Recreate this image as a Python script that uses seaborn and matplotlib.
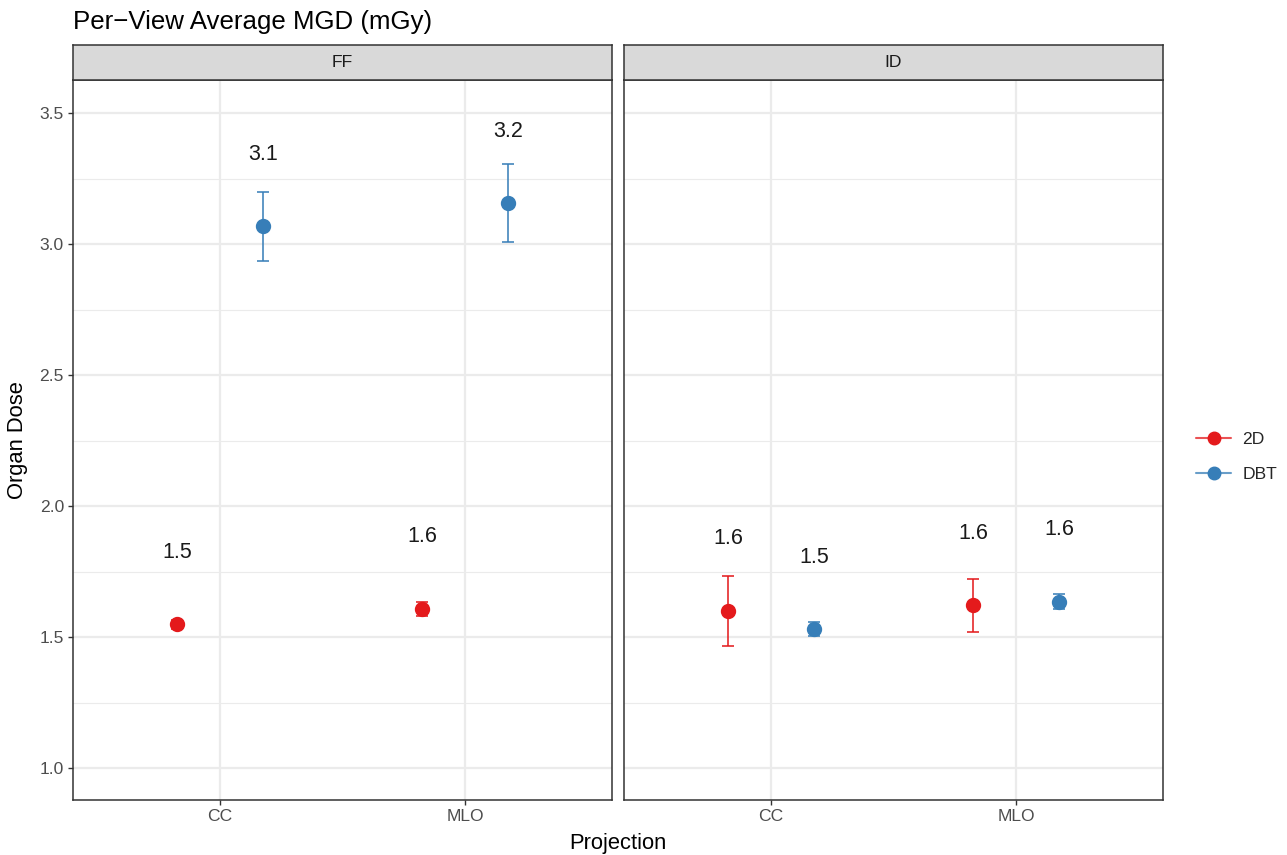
import numpy as np
import pandas as pd
import matplotlib
matplotlib.use("Agg")
import matplotlib.pyplot as plt
import seaborn as sns
from matplotlib.lines import Line2D
from matplotlib.colors import to_rgba

# ---------------- data ----------------
detectors = ["FF", "ID"]
projections = ["CC", "MLO"]
modalities = ["2D", "DBT"]

det_col = ["FF", "FF", "FF", "FF", "ID", "ID", "ID", "ID"]
proj_col = ["CC", "CC", "MLO", "MLO", "CC", "CC", "MLO", "MLO"]
mod_col = ["2D", "DBT", "2D", "DBT", "2D", "DBT", "2D", "DBT"]
mean_dose = [1.548, 3.068, 1.607, 3.156, 1.600, 1.530, 1.621, 1.634]
lower_ci = [1.532, 2.935, 1.582, 3.008, 1.464, 1.503, 1.519, 1.606]
upper_ci = [1.566, 3.198, 1.632, 3.305, 1.734, 1.558, 1.721, 1.663]

palette = {"2D": "#E41A1C", "DBT": "#377EB8"}

df = pd.DataFrame({"Detector": det_col, "Projection": proj_col,
                   "Modality": mod_col, "Dose": mean_dose,
                   "lo": lower_ci, "hi": upper_ci})

# ---------------- style ----------------
sns.set_theme(style="white")
plt.rcParams["font.family"] = ["Liberation Sans", "DejaVu Sans"]

TICK_FS = 12.6
W, H = 1287, 855
fig = plt.figure(figsize=(W / 100, H / 100), dpi=100)

panel_left = [73, 624]
panel_w = 539
panel_top, panel_bot = 80, 800
strip_h = 35
dodge = 0.35
label_offset = 0.275

axes = []
for i, det in enumerate(detectors):
    l = panel_left[i]
    ax = fig.add_axes([l / W, (H - panel_bot) / H, panel_w / W,
                       (panel_bot - panel_top) / H])
    axes.append(ax)
    sub = df[df["Detector"] == det]

    # error bars (drawn beneath the points)
    for _, r in sub.iterrows():
        x = projections.index(r["Projection"]) + \
            (modalities.index(r["Modality"]) - 0.5) * dodge
        ax.errorbar([x], [r["Dose"]],
                    yerr=[[r["Dose"] - r["lo"]], [r["hi"] - r["Dose"]]],
                    fmt="none", ecolor=to_rgba(palette[r["Modality"]], 0.8),
                    elinewidth=1.4, capsize=4.2, capthick=1.4, zorder=2)
        ax.text(x, r["Dose"] + label_offset, f"{r['Dose']:.1f}",
                ha="center", va="center", fontsize=15.5, color="#1A1A1A",
                zorder=4)

    sns.pointplot(data=sub, x="Projection", y="Dose", hue="Modality",
                  order=projections, hue_order=modalities, palette=palette,
                  dodge=dodge, linestyle="none", markers="o", markersize=9,
                  errorbar=None, legend=False, ax=ax)
    for ln in ax.lines:
        ln.set_zorder(3)

    ax.set_xlim(-0.6, 1.6)
    ax.set_ylim(0.878, 3.626)
    ax.set_yticks([1.0, 1.5, 2.0, 2.5, 3.0, 3.5])
    ax.set_yticks([1.25, 1.75, 2.25, 2.75, 3.25], minor=True)
    ax.set_axisbelow(True)
    ax.grid(which="major", axis="both", color="#EBEBEB", linewidth=1.6)
    ax.grid(which="minor", axis="y", color="#EBEBEB", linewidth=0.8)
    ax.set_xlabel("")
    ax.set_ylabel("")
    for s in ax.spines.values():
        s.set_color("#333333")
        s.set_linewidth(1.1)
    ax.tick_params(axis="x", which="major", length=3.5, width=1.0,
                   color="#333333", labelsize=TICK_FS, labelcolor="#4D4D4D",
                   pad=3, bottom=True)
    if i == 0:
        ax.tick_params(axis="y", which="major", length=3.5, width=1.0,
                       color="#333333", labelsize=TICK_FS, labelcolor="#4D4D4D",
                       pad=3, left=True)
        ax.set_yticklabels([f"{v:.1f}" for v in ax.get_yticks()])
    else:
        ax.tick_params(axis="y", which="both", left=False, labelleft=False)
    ax.tick_params(axis="y", which="minor", left=False)

    # facet strip
    sax = fig.add_axes([l / W, (H - panel_top) / H, panel_w / W, strip_h / H])
    sax.set_facecolor("#D9D9D9")
    sax.set_xticks([])
    sax.set_yticks([])
    for s in sax.spines.values():
        s.set_color("#333333")
        s.set_linewidth(1.1)
    sax.text(0.5, 0.5, det, ha="center", va="center", fontsize=TICK_FS,
             color="#1A1A1A", transform=sax.transAxes)

# titles
fig.text(73 / W, 1 - 22 / H, "Per\u2212View Average MGD (mGy)", ha="left",
         va="center", fontsize=18.6, color="black")
fig.text(18 / W, 1 - 440 / H, "Organ Dose", ha="center", va="center",
         rotation=90, fontsize=15.8, color="black")
fig.text(618 / W, 1 - 843 / H, "Projection", ha="center", va="center",
         fontsize=15.8, color="black")

# legend
handles = [Line2D([0], [0], color=to_rgba(palette[m], 0.75), linewidth=1.5,
                  marker="o", markersize=9, markerfacecolor=palette[m],
                  markeredgecolor=palette[m]) for m in modalities]
fig.legend(handles, modalities, loc="center left",
           bbox_to_anchor=(1189 / W, 1 - 457 / H), frameon=False,
           fontsize=TICK_FS, handlelength=2.0, handletextpad=0.65,
           labelspacing=1.15, borderaxespad=0)

fig.savefig("out.png", dpi=100)
